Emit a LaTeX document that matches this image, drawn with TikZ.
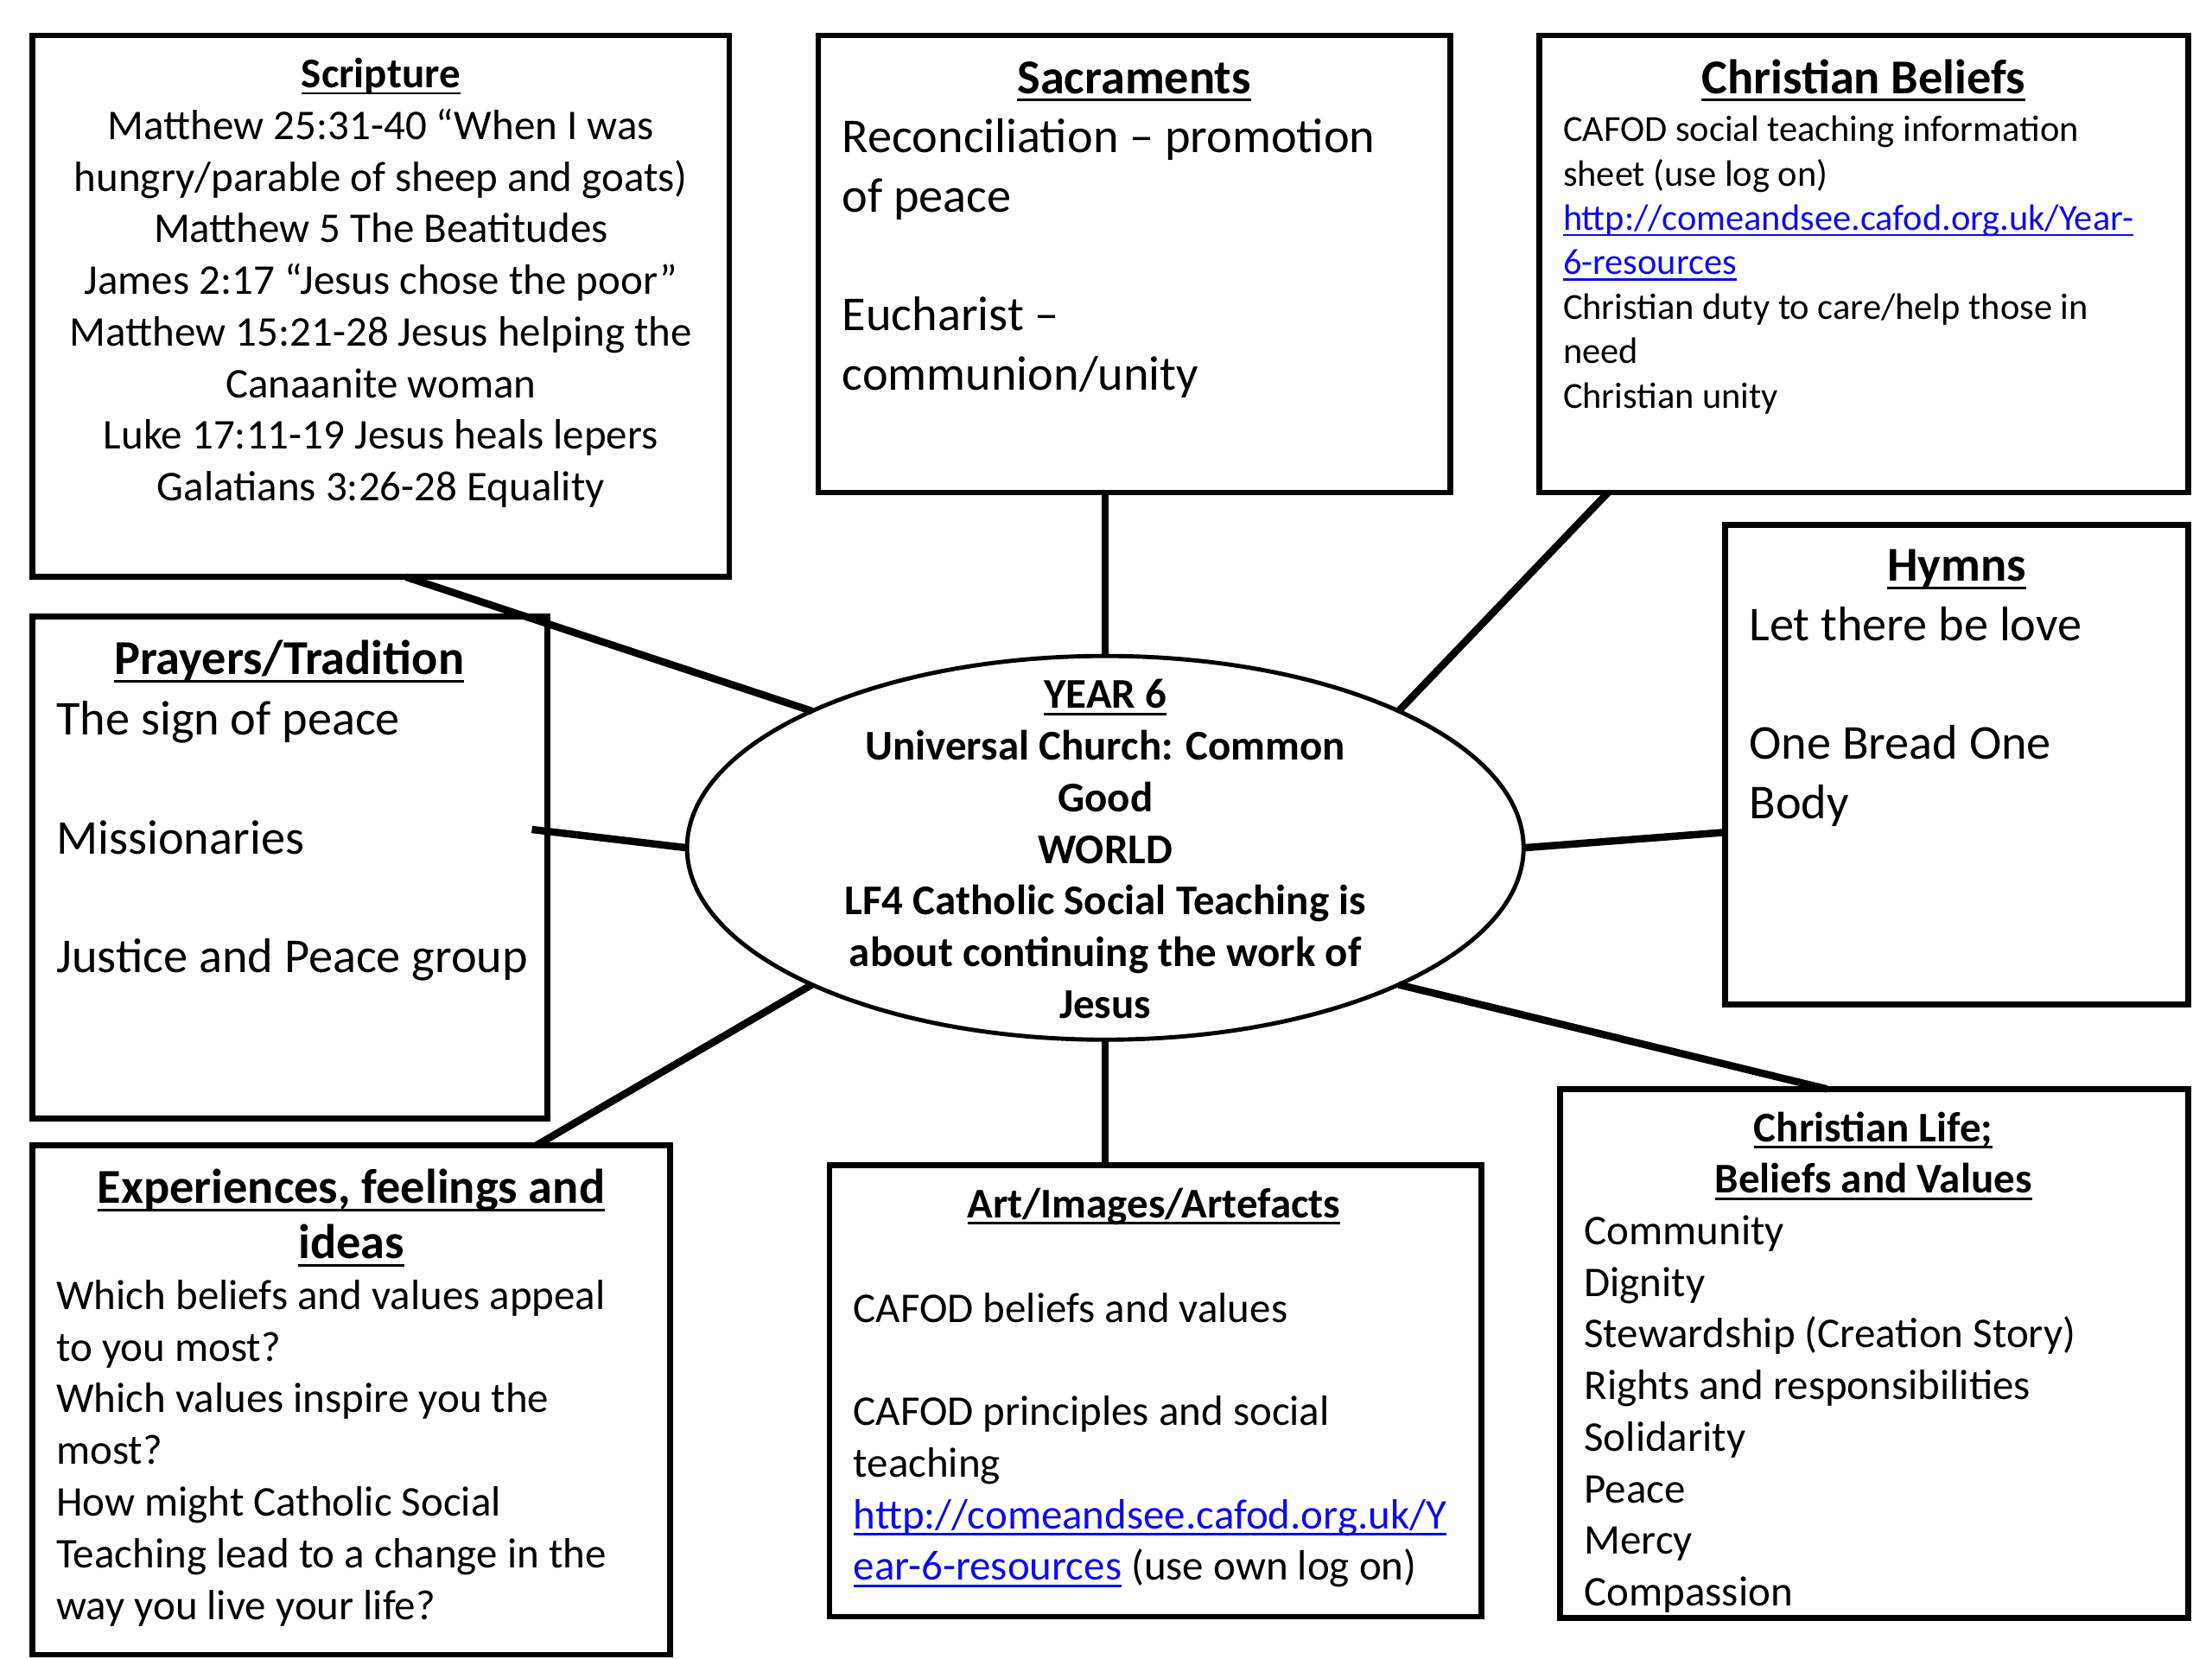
\documentclass[tikz,border=0pt]{standalone}
\usepackage{fontspec}
\setmainfont{Carlito}
\usetikzlibrary{shapes.geometric,calc}
\definecolor{linkblue}{RGB}{12,12,235}
\newcommand\myfsA{\fontsize{15}{18.3}\selectfont}
\newcommand\myfsB{\fontsize{17.25}{21.05}\selectfont}
\newcommand\myfsC{\fontsize{13}{15.75}\selectfont}
\newcommand\myul[1]{\setbox0\hbox{#1}\rlap{\rule[-0.16em]{\wd0}{0.055em}}\box0}
\newcommand\lnk[1]{{\color{linkblue}\myul{#1}}}
\begin{document}
\begin{tikzpicture}[x=0.5pt,y=-0.5pt,
  box/.style={draw, line width=2pt, rectangle, inner sep=0, outer sep=0},
  conn/.style={line width=2.6pt},
  txt/.style={inner sep=0, outer sep=0, align=left, anchor=north west},
  ttl/.style={inner sep=0, outer sep=0, align=center, anchor=north}]
\useasboundingbox (0,0) rectangle (1568,1176);

% boxes
\node[box, minimum width=247pt, minimum height=192pt] (scr) at (270,217) {};
\node[box, minimum width=224pt, minimum height=162pt] (sac) at (804,187) {};
\node[box, minimum width=230pt, minimum height=162pt] (bel) at (1321,187) {};
\node[box, minimum width=164pt, minimum height=170pt] (hym) at (1387,542) {};
\node[box, minimum width=182.5pt, minimum height=178pt] (pra) at (205.5,615) {};
\node[box, minimum width=226pt, minimum height=180.5pt] (exp) at (249,992.5) {};
\node[box, minimum width=231pt, minimum height=160pt] (art) at (819,986) {};
\node[box, minimum width=222.5pt, minimum height=187.5pt] (lif) at (1328.5,959.5) {};
\node[draw, ellipse, line width=1.5pt, minimum width=296.5pt, minimum height=136pt, inner sep=0, outer sep=0] (ell) at (783.5,601) {};

% connectors
\draw[conn] ($(scr.south west)!0.536!(scr.south east)$) -- (ell.155);
\draw[conn] ($(pra.east)+(-11,-27)$) -- (ell.180);
\draw[conn] ($(exp.north west)!0.79!(exp.north east)$) -- (ell.205);
\draw[conn] (ell.south) -- (ell.south |- art.north);
\draw[conn] (ell.north) -- (ell.north |- sac.south);
\draw[conn] ($(lif.north west)!0.425!(lif.north east)$) -- (ell.335);
\draw[conn] ($(hym.west)+(0,48)$) -- (ell.0);
\draw[conn] ($(bel.south west)!0.1065!(bel.south east)$) -- (ell.25);

% centre text
\node[ttl, font=\myfsA\bfseries] (ellT) at (783.5,476.6) {\strut\myul{YEAR 6}\\ Universal Church: Common\\ Good\\ WORLD\\ LF4 Catholic Social Teaching is\\ about continuing the work of\\ Jesus};

% Scripture
\node[ttl, font=\myfsA] (scrT) at (270,36.6) {\strut\textbf{\myul{Scripture}}\\ Matthew 25:31-40 “When I was\\ hungry/parable of sheep and goats)\\ Matthew 5 The Beatitudes\\ James 2:17 “Jesus chose the poor”\\ Matthew 15:21-28 Jesus helping the\\ Canaanite woman\\ Luke 17:11-19 Jesus heals lepers\\ Galatians 3:26-28 Equality};

% Sacraments
\node[ttl, font=\myfsB\bfseries] (sacT) at (804,36.7) {\strut\myul{Sacraments}};
\node[txt, font=\myfsB] (sacB) at (597,78.7) {\strut Reconciliation – promotion\\ of peace\\[\baselineskip] Eucharist –\\ communion/unity};

% Christian Beliefs
\node[ttl, font=\myfsB\bfseries] (belT) at (1321,36.7) {\strut\myul{Christian Beliefs}};
\node[txt, font=\myfsC] (belB) at (1108,78.2) {\strut CAFOD social teaching information\\ sheet (use log on)\\ \lnk{http://comeandsee.cafod.org.uk/Year-}\\ \lnk{6-resources}\\ Christian duty to care/help those in\\ need\\ Christian unity};

% Hymns
\node[ttl, font=\myfsB\bfseries] (hymT) at (1387,382.7) {\strut\myul{Hymns}};
\node[txt, font=\myfsB] (hymB) at (1240,424.7) {\strut Let there be love\\[\baselineskip] One Bread One\\ Body};

% Prayers
\node[ttl, font=\myfsB\bfseries] (praT) at (205,448.7) {\strut\myul{Prayers/Tradition}};
\node[txt, font=\myfsB] (praB) at (40,491.7) {\strut The sign of peace\\[\baselineskip] Missionaries\\[\baselineskip] Justice and Peace group};

% Experiences
\node[ttl, font={\fontsize{17.25}{19.5}\selectfont\bfseries}] (expT) at (249,825.9) {\strut\myul{Experiences, feelings and}\\ \myul{ideas}};
\node[txt, font=\myfsA] (expB) at (40,902.6) {\strut Which beliefs and values appeal\\ to you most?\\ Which values inspire you the\\ most?\\ How might Catholic Social\\ Teaching lead to a change in the\\ way you live your life?};

% Art
\node[ttl, font=\myfsA\bfseries] (artT) at (818,837.6) {\strut\myul{Art/Images/Artefacts}};
\node[txt, font=\myfsA] (artB) at (605,911.6) {\strut CAFOD beliefs and values\\[\baselineskip] CAFOD principles and social\\ teaching\\ \lnk{http://comeandsee.cafod.org.uk/Y}\\ \lnk{ear-6-resources} (use own log on)};

% Christian Life
\node[ttl, font=\myfsA\bfseries] (lifT) at (1328,783.6) {\strut\myul{Christian Life;}\\ \myul{Beliefs and Values}};
\node[txt, font=\myfsA] (lifB) at (1123,856.6) {\strut Community\\ Dignity\\ Stewardship (Creation Story)\\ Rights and responsibilities\\ Solidarity\\ Peace\\ Mercy\\ Compassion};
\end{tikzpicture}
\end{document}
